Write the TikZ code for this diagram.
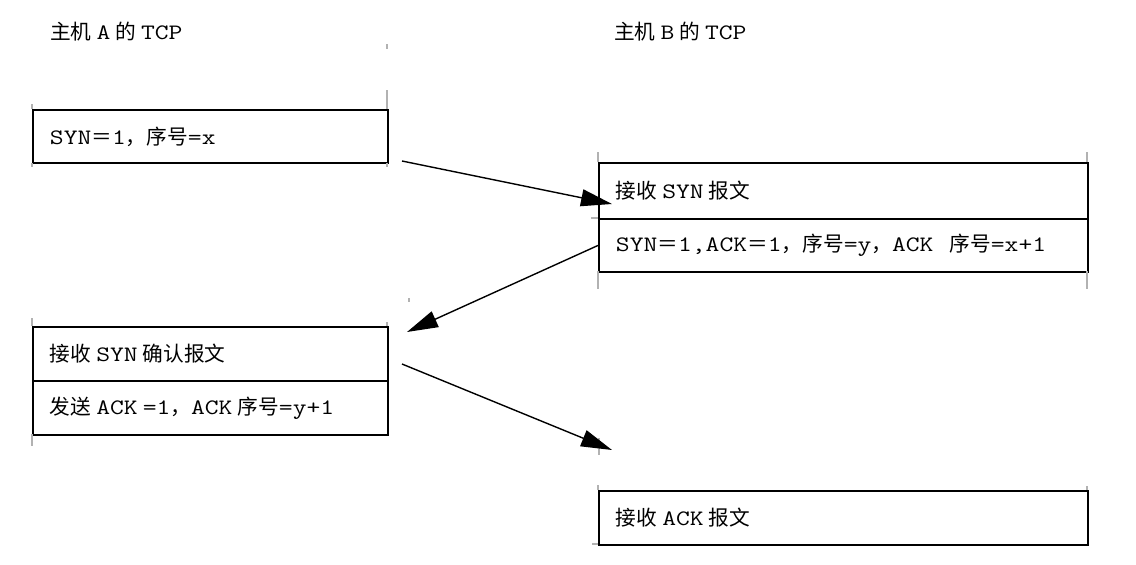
\documentclass[tikz,border=0pt]{standalone}
\usepackage{fontspec}
\setmonofont{Latin Modern Mono}[FakeStretch=1.22]
\newfontfamily\cjk{Noto Sans CJK SC}[Scale=0.94]
\usetikzlibrary{arrows.meta}
\newcommand{\zh}[1]{{\cjk #1}}
\newcommand{\fs}{\fontsize{22}{26}\selectfont\ttfamily}
\newcommand{\hs}{\hspace{5pt}}
\begin{document}
\begin{tikzpicture}[x=1pt,y=-1pt,
  row/.style={draw, line width=1.9pt, anchor=north west, inner xsep=17pt, inner ysep=0pt, align=left, font=\fs},
  narrow/.style={text width=321pt},
  wide/.style={text width=455pt},
  title/.style={anchor=west, inner sep=0pt, font=\fs},
  conn/.style={line width=1.4pt, -{Triangle[length=31pt,width=17pt]}},
  tick/.style={line width=1.4pt, draw=black!30}
]
\fill[white] (0,0) rectangle (1136,565);
\useasboundingbox (0,0) rectangle (1136,565);

% titles
\node[title] (ta) at (50,32) {\zh{主机}\hs A\hs\zh{的}\hs TCP};
\node[title] (tb) at (614,32) {\zh{主机}\hs B\hs\zh{的}\hs TCP};

% host A boxes
\node[row, narrow, minimum height=53pt] (a1) at (32,109) {SYN\zh{＝}1\zh{，序号}=x};
\node[row, narrow, minimum height=54pt] (a2) at (32,326) {\zh{接收}\hs SYN\hs\zh{确认报文}};
\node[row, narrow, minimum height=54pt] (a3) at (32,380) {\zh{发送}\hs ACK\hs=1\zh{，}ACK\hs\zh{序号}=y+1};

% host B boxes
\node[row, wide, minimum height=56pt] (b1) at (598,162) {\zh{接收}\hs SYN\hs\zh{报文}};
\node[row, wide, minimum height=53pt] (b2) at (598,218) {SYN\zh{＝}1,ACK\zh{＝}1\zh{，序号}=y\zh{，}ACK\hspace{16pt}\zh{序号}=x+1};
\node[row, wide, minimum height=54pt] (b3) at (598,490) {\zh{接收}\hs ACK\hs\zh{报文}};

% gray frame ticks
\draw[tick] (32,104) -- (32,109) (32,163) -- (32,167);
\draw[tick] (387,90) -- (387,109) (387,163) -- (387,167) (387,44) -- (387,49);
\draw[tick] (598,152) -- (598,162) (598,271) -- (598,289) (591,218) -- (598,218);
\draw[tick] (1087,152) -- (1087,162) (1087,271) -- (1087,289);
\draw[tick] (32,318) -- (32,326) (32,434) -- (32,446);
\draw[tick] (387,322) -- (387,326);
\draw[tick] (598,485) -- (598,490) (1087,486) -- (1087,490) (592,544) -- (598,544);
\draw[tick] (599,438) -- (599,455);
\draw[tick] (409,298) -- (409,302);

% connectors
\coordinate (s1) at (402,161);
\coordinate (t1) at (612,204);
\coordinate (t2) at (407,332);
\coordinate (s3) at (402,364);
\coordinate (t3) at (612,450);
\draw[conn] (s1) -- (t1);
\draw[conn] (b2.west) -- (t2);
\draw[conn] (s3) -- (t3);
\end{tikzpicture}
\end{document}
